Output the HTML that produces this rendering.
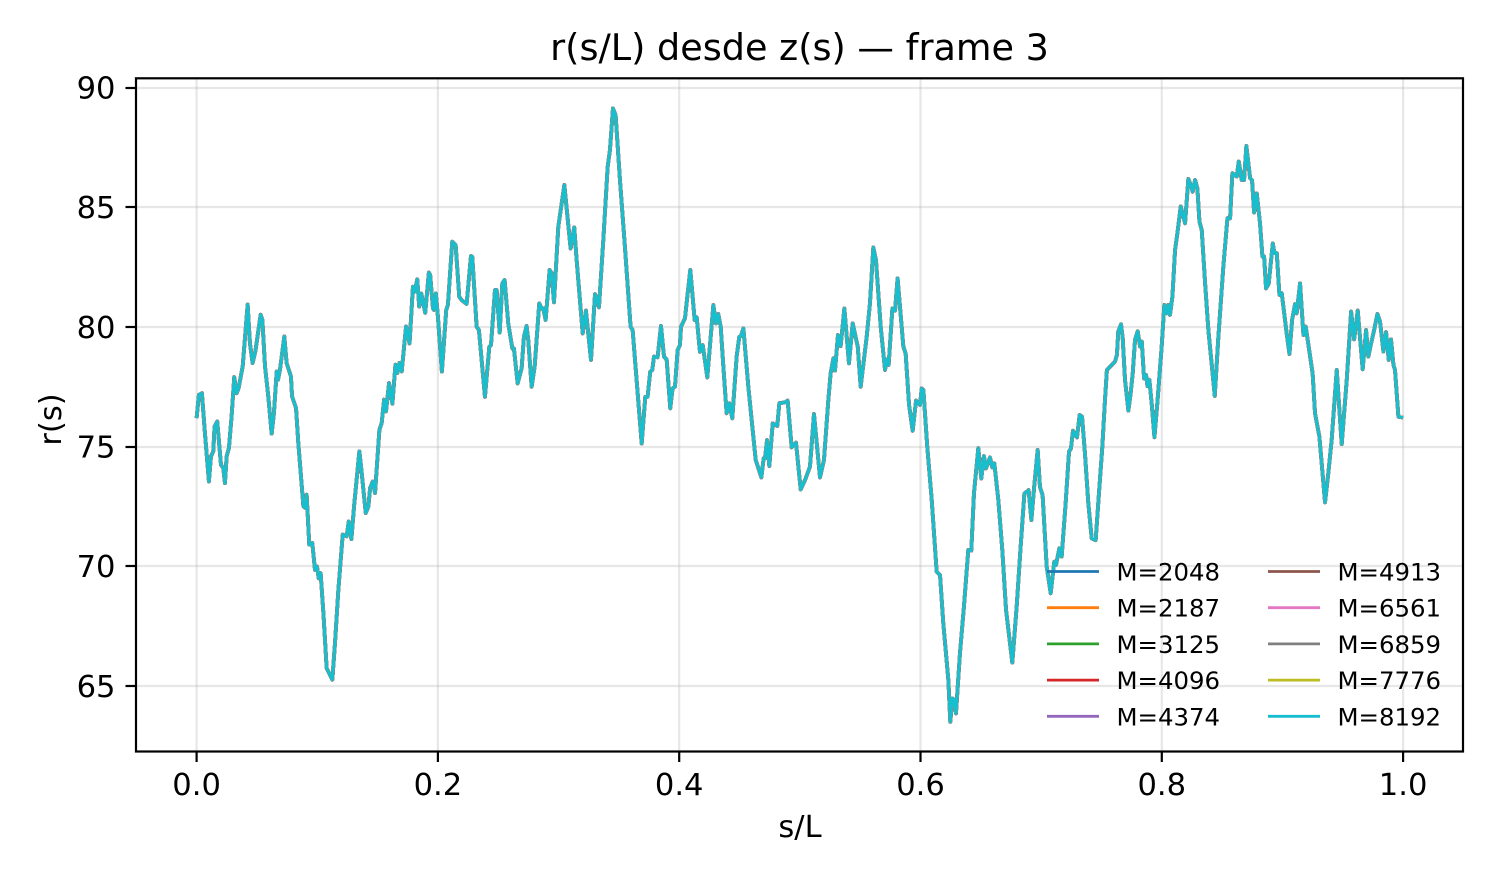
<!DOCTYPE html>
<html lang="es">
<head>
<meta charset="utf-8">
<title>r(s/L) desde z(s) — frame 3</title>
<style>
  html, body { margin: 0; padding: 0; background: #fff; }
  #chart { display: block; width: 1496px; height: 880px; font-family: "DejaVu Sans", "Liberation Sans", sans-serif; fill: #000; }
</style>
</head>
<body>
<svg id="chart" xmlns="http://www.w3.org/2000/svg" width="1496" height="880" viewBox="0 0 1496 880">
  <rect x="0" y="0" width="1496" height="880" fill="#ffffff"></rect>
  <text x="799.5" y="60" text-anchor="middle" font-size="36.55">r(s/L) desde z(s) — frame 3</text>
  <text x="800" y="837" text-anchor="middle" font-size="30.55">s/L</text>
  <text x="0" y="0" transform="translate(61 419.5) rotate(-90)" text-anchor="middle" font-size="30.55">r(s)</text>
  <g id="grid"></g>
  <g id="series"></g>
  <g id="axes"></g>
  <g id="legend"></g>
</svg>
<script>
const xTickValues = [0, 0.2, 0.4, 0.6, 0.8, 1.0];
const xTickLabels = ["0.0", "0.2", "0.4", "0.6", "0.8", "1.0"];
const yTickValues = [65, 70, 75, 80, 85, 90];
const yTickLabels = ["65", "70", "75", "80", "85", "90"];
const seriesLabels = ["M=2048", "M=2187", "M=3125", "M=4096", "M=4374", "M=4913", "M=6561", "M=6859", "M=7776", "M=8192"];
const seriesColors = ["#1f77b4", "#ff7f0e", "#2ca02c", "#d62728", "#9467bd", "#8c564b", "#e377c2", "#7f7f7f", "#bcbd22", "#17becf"];

const sValues = [
  0,.0019,.0044,.0069,.0102,.0119,.0138,.0149,.0171,.0202,
  .0221,.0235,.0249,.0268,.029,.0312,.0332,.0348,.0382,.0423,
  .0442,.0464,.0487,.0531,.0545,.0567,.0594,.0622,.0641,.0664,
  .0675,.0691,.0727,.0746,.0782,.0791,.0824,.0843,.0885,.0904,
  .0912,.0934,.0959,.0981,.0998,.1012,.1028,.1051,.1078,.1125,
  .1147,.1175,.1211,.1244,.1261,.1283,.1305,.1349,.1363,.1402,
  .1424,.1438,.146,.1479,.1515,.1534,.1554,.157,.1595,.1623,
  .1648,.1664,.1681,.17,.1736,.1765,.1793,.1807,.1829,.1845,
  .1862,.1895,.1925,.1936,.1959,.1967,.1983,.2,.2033,.2069,
  .2083,.2119,.2147,.2177,.2197,.2238,.2274,.2285,.2321,.234,
  .239,.2426,.244,.2473,.2487,.2512,.2534,.2553,.2583,.2617,
  .263,.2661,.2694,.2713,.2735,.2749,.2777,.2802,.284,.286,
  .2873,.2893,.2926,.2943,.2962,.2998,.3048,.31,.313,.315,
  .32,.3227,.3246,.3269,.3302,.3316,.3335,.3371,.3407,.3426,
  .3451,.3473,.3509,.355,.3597,.3614,.3647,.3689,.3719,.3738,
  .376,.3777,.3791,.3821,.3849,.3874,.3896,.3926,.3945,.3965,
  .3987,.4006,.4015,.4048,.407,.4092,.4109,.4128,.4145,.4172,
  .4195,.4233,.4283,.4305,.4324,.4344,.4366,.4393,.4416,.444,
  .4476,.4498,.4512,.4532,.4573,.4609,.4634,.4681,.47,.4711,
  .4728,.4747,.4775,.4813,.483,.4877,.4899,.4932,.4968,.5007,
  .5043,.5084,.5117,.5167,.52,.5236,.5255,.5278,.5291,.5316,
  .5338,.5369,.5407,.5438,.548,.5504,.5554,.5581,.5609,.5631,
  .567,.5706,.572,.5736,.5767,.5789,.581,.5858,.5877,.5905,
  .5935,.5963,.5996,.601,.6024,.6056,.6092,.6134,.6162,.6189,
  .6231,.6247,.6264,.628,.6294,.6327,.636,.6396,.6421,.6443,
  .6479,.6504,.6526,.6543,.6576,.6595,.6612,.6645,.6678,.6709,
  .6761,.6797,.683,.6861,.688,.6896,.6919,.6941,.6971,.699,
  .7012,.7046,.7079,.7109,.7123,.7151,.717,.7203,.7231,.7247,
  .7264,.7297,.7319,.7339,.7363,.7391,.7419,.7452,.7479,.7507,
  .7529,.7545,.7612,.7628,.7639,.7662,.7676,.7695,.7723,.7742,
  .7759,.7778,.78,.782,.7834,.7853,.787,.7881,.7897,.7916,
  .7939,.7963,.7999,.8021,.8041,.8055,.8068,.8088,.811,.8129,
  .8157,.8193,.822,.824,.8256,.8276,.8295,.8312,.8331,.8359,
  .8386,.8439,.8469,.851,.8544,.8566,.8585,.8621,.8638,.8662,
  .8682,.8701,.8732,.8748,.8765,.8787,.8814,.8834,.8848,.8864,
  .8886,.892,.8933,.8953,.8975,.8994,.9035,.9058,.908,.9104,
  .9118,.9146,.9174,.9193,.925,.927,.9306,.9353,.938,.9408,
  .945,.9491,.9533,.9569,.9594,.9624,.9665,.9693,.9712,.9732,
  .976,.9787,.9809,.9837,.9859,.9881,.99,.992,.9933,.9961,
  1
];

const rValues = [
  76.2,77.17,77.24,75.57,73.55,74.6,74.81,75.85,76.06,74.25,
  74.11,73.48,74.6,74.95,76.27,77.91,77.24,77.45,78.36,80.94,
  79.33,78.5,78.99,80.52,80.31,78.36,77.11,75.55,76.41,78.15,
  77.8,78.22,79.61,78.5,77.94,77.11,76.62,75.16,72.51,72.44,
  73,70.91,70.98,69.86,70,69.51,69.72,68.05,65.75,65.27,
  66.8,69.03,71.33,71.26,71.88,71.14,72.51,74.81,74.18,72.23,
  72.51,73.28,73.55,73.07,75.71,75.99,76.97,76.48,77.66,76.8,
  78.43,78.08,78.5,78.15,80.03,79.32,81.69,81.48,82,80.86,
  81.41,80.6,82.28,82.18,80.79,80.72,81.41,80.44,78.14,80.72,
  80.93,83.57,83.43,81.27,81.13,80.97,82.97,82.94,80.02,79.88,
  77.09,79.18,79.25,81.55,81.55,79.77,81.83,81.97,80.16,79.11,
  79.11,77.65,78.28,79.6,80.05,79.46,77.51,78.35,80.99,80.78,
  80.78,80.3,82.39,82.25,81.04,84.2,85.94,83.29,84.17,82.8,
  79.74,80.69,79.74,78.63,81.38,81.2,80.83,83.64,86.7,87.4,
  89.14,88.86,86.15,83.36,80.02,79.88,77.79,75.14,77.09,77.09,
  78.14,78.21,78.77,78.74,80.05,78.77,78.65,76.61,77.44,77.51,
  79.04,79.25,80.02,80.37,81.41,82.39,81.41,80.3,80.41,78.97,
  79.25,77.9,80.92,80.16,80.55,80.02,78.35,76.4,76.82,76.19,
  78.77,79.6,79.63,79.95,77.51,75.7,74.45,73.72,74.52,74.52,
  75.28,74.2,75.98,75.87,76.82,76.86,76.93,74.98,75.17,73.22,
  73.61,74.17,76.37,73.72,74.45,76.95,78.07,78.7,78.18,79.67,
  79.21,80.78,78.49,80.16,79.18,77.51,79.6,80.99,83.33,82.8,
  80.02,78.21,78.65,78.42,80.78,80.69,82.04,79.18,78.9,76.75,
  75.67,76.93,76.75,77.44,77.37,75,72.85,69.78,69.64,67.62,
  65.25,63.51,64.49,64.42,63.86,66.37,68.32,70.69,70.66,73.05,
  74.94,73.68,74.61,74.1,74.56,74.14,74.31,72.78,70.69,68.18,
  65.98,68.32,70.83,73.05,73.12,73.19,71.94,73.26,74.87,73.33,
  72.98,69.99,68.88,70.2,70.06,70.76,70.41,72.64,74.8,74.93,
  75.67,75.39,76.33,76.26,74.73,72.64,71.17,71.1,73.05,75,
  76.95,78.21,78.56,78.84,79.81,80.12,79.54,77.8,76.51,77.24,
  78.07,79.47,79.83,79.19,79.4,77.86,78,77.54,77.8,76.82,
  75.4,76.82,79.19,80.93,80.58,80.93,80.51,81.28,83.23,83.92,
  85.04,84.34,86.19,85.94,85.66,86.15,85.8,84.41,84.06,81.83,
  79.88,77.13,79.6,82.53,84.55,84.55,86.43,86.29,86.92,86.15,
  86.15,87.57,86.22,86.15,84.79,85.59,84.34,82.95,82.95,81.62,
  81.81,83.5,83.09,83.09,81.35,81.42,79.74,78.88,80.3,80.96,
  80.58,81.83,79.67,80.02,78.07,76.4,75.43,72.68,73.89,75.29,
  78.21,75.11,77.8,80.65,79.49,80.69,78.24,79.88,78.77,79.26,
  79.88,80.55,80.23,78.98,79.79,78.63,79.49,78.42,78.21,76.26,
  76.22
];

const SVG_NS = "http://www.w3.org/2000/svg";
const plotLeft = 136, plotRight = 1463, plotTop = 78, plotBottom = 751;
const xDomain = [-0.05023, 1.04965], yDomain = [62.29, 90.41];

function xScale(v) { return plotLeft + (v - xDomain[0]) / (xDomain[1] - xDomain[0]) * (plotRight - plotLeft); }
function yScale(v) { return plotBottom - (v - yDomain[0]) / (yDomain[1] - yDomain[0]) * (plotBottom - plotTop); }

function make(tag, attrs, parent, text) {
  const el = document.createElementNS(SVG_NS, tag);
  for (const k in attrs) el.setAttribute(k, attrs[k]);
  if (text !== undefined) el.textContent = text;
  parent.appendChild(el);
  return el;
}

const gridGroup = document.getElementById("grid");
const seriesGroup = document.getElementById("series");
const axesGroup = document.getElementById("axes");
const legendGroup = document.getElementById("legend");
const tickFont = 30.55, gridWidth = 2.2, spineWidth = 2.2, tickLen = 10.5;

xTickValues.forEach(function (v, i) {
  const x = xScale(v);
  const line = make("line", { x1: x, x2: x, y1: plotTop, y2: plotBottom, stroke: "#b0b0b0", "stroke-opacity": 0.3, "stroke-width": gridWidth }, gridGroup);
  
  
  const tick = make("line", { x1: x, x2: x, y1: plotBottom, y2: plotBottom + tickLen + 0.5, stroke: "#000", "stroke-width": spineWidth }, axesGroup);
  
  
  const label = make("text", { x: x, y: 795, "text-anchor": "middle", "font-size": tickFont }, axesGroup, xTickLabels[i]);
  
  
});

yTickValues.forEach(function (v, i) {
  const y = Math.round(yScale(v));
  const line = make("line", { x1: plotLeft, x2: plotRight, y1: y, y2: y, stroke: "#b0b0b0", "stroke-opacity": 0.3, "stroke-width": gridWidth }, gridGroup);
  
  
  const tick = make("line", { x1: plotLeft - tickLen, x2: plotLeft, y1: y, y2: y, stroke: "#000", "stroke-width": spineWidth }, axesGroup);
  
  
  const label = make("text", { x: 115.5, y: yScale(v) + 10.7, "text-anchor": "end", "font-size": tickFont }, axesGroup, yTickLabels[i]);
  
  
});

const frame = make("rect", { x: plotLeft, y: plotTop + 0.3, width: plotRight - plotLeft, height: plotBottom - plotTop + 0.2, fill: "none", stroke: "#000", "stroke-width": spineWidth }, axesGroup);



const linePoints = sValues.map(function (s, i) { return xScale(s).toFixed(2) + "," + yScale(rValues[i]).toFixed(2); }).join(" ");

seriesLabels.forEach(function (name, i) {
  const width = i < seriesLabels.length - 2 ? 3.7 : 3.1;
  const path = make("polyline", { points: linePoints, fill: "none", stroke: seriesColors[i], "stroke-width": width, "stroke-linejoin": "round", "stroke-linecap": "butt" }, seriesGroup);
  
  
});

seriesLabels.forEach(function (name, i) {
  const col = Math.floor(i / 5), row = i % 5;
  const x0 = 1047 + col * 221;
  const y = 571.5 + row * 36.2;
  const handle = make("line", { x1: x0, x2: x0 + 52, y1: y, y2: y, stroke: seriesColors[i], "stroke-width": 2.78 }, legendGroup);
  
  
  const label = make("text", { x: x0 + 69.5, y: y + 9, "font-size": 24.4 }, legendGroup, name);
  
  
});
</script>
</body>
</html>
